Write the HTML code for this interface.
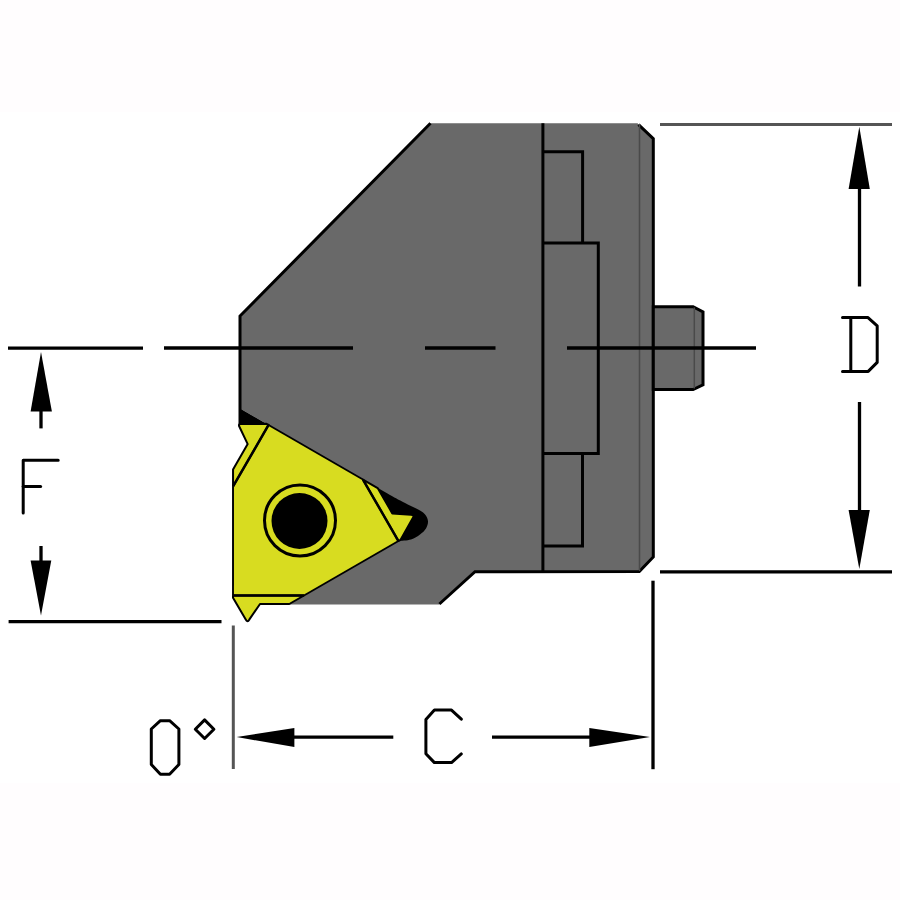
<!DOCTYPE html>
<html><head><meta charset="utf-8">
<style>
html,body{margin:0;padding:0;width:900px;height:900px;overflow:hidden;background:#fffdfe;}
svg{display:block;position:absolute;left:0;top:0;}
</style></head>
<body>
<svg width="900" height="900" viewBox="0 0 900 900">
<rect x="0" y="0" width="900" height="900" fill="#fffdfe"/>
<rect x="0" y="112" width="900" height="671" fill="#ffffff"/>

<!-- body -->
<polygon fill="#696969" points="430.5,123.3 637.5,123.3 653.3,138.7 653.3,557 639.3,571.6 475,571.7 439.4,604.5 289.3,604.5 300,520.5 268.55,425 240,408.5 240,316"/>
<g fill="none" stroke="#000" stroke-width="3" stroke-linejoin="miter" stroke-linecap="butt">
  <polyline points="240,424 240,316 430.5,123.3"/>
  <polyline points="638.5,124.6 653.3,138.7 653.3,557 639.3,571.6 475,571.7 439.4,604"/>
  <line x1="542.9" y1="123.3" x2="542.9" y2="571.6"/>
  <polyline points="542.9,151.8 582.6,151.8 582.6,243"/>
  <polyline points="542.9,243 598.3,243 598.3,453.4 542.9,453.4"/>
  <polyline points="582.5,453.4 582.5,546 542.9,546"/>
</g>
<g fill="none" stroke="#4a4a4a" stroke-width="1.5">
  <line x1="639.5" y1="124" x2="639.5" y2="571"/>
</g>
<!-- nub -->
<polygon fill="#696969" stroke="#000" stroke-width="3" points="653.3,306.7 693.1,306.7 703,311.9 703,384.8 693.1,389.5 653.3,389.5"/>
<line x1="694.3" y1="307.5" x2="694.3" y2="388.5" stroke="#4a4a4a" stroke-width="1.5"/>

<!-- pockets -->
<polygon fill="#000" points="240,408.5 268.55,424.98 240,430"/>
<path fill="#000" d="M362.94,479.52 C367.45,482.10 383.32,491.25 390.00,495.00 C396.68,498.75 399.33,500.08 403.00,502.00 C406.67,503.92 409.17,505.08 412.00,506.50 C414.83,507.92 417.75,509.08 420.00,510.50 C422.25,511.92 424.17,513.17 425.50,515.00 C426.83,516.83 427.92,519.25 428.00,521.50 C428.08,523.75 427.33,526.33 426.00,528.50 C424.67,530.67 422.50,532.67 420.00,534.50 C417.50,536.33 414.59,538.41 411.00,539.50 C407.41,540.59 400.54,540.77 398.45,541.02 Z"/>

<!-- insert -->
<defs>
<path id="tooth" d="M-67,75 L-67,77.3 L-54.4,98.7 Q-52.6,102.5 -50.6,98.9 L-40,83.5 L-10.71,83.5 L4.01,75 Z"/>
</defs>
<g transform="translate(300,520.5)">
<g fill="#d8dc20" stroke="#000" stroke-linejoin="round">
  <polygon stroke="none" points="-67,75 4.01,75 98.45,20.52 62.94,-40.98 -31.45,-95.52 -66.96,-34.02"/>
  <use href="#tooth" stroke-width="2"/>
  <use href="#tooth" stroke-width="2" transform="rotate(120)"/>
  <use href="#tooth" stroke-width="2" transform="rotate(240)"/>
</g>
<g stroke="#000" stroke-width="2.5" fill="none">
  <line x1="-67" y1="75" x2="4.01" y2="75"/>
  <line x1="-67" y1="75" x2="4.01" y2="75" transform="rotate(120)"/>
  <line x1="-67" y1="75" x2="4.01" y2="75" transform="rotate(240)"/>
</g>
<line x1="-67" y1="-34" x2="-67" y2="75" stroke="#222" stroke-width="1.3"/>
<g stroke="#000" stroke-width="1.8">
<line x1="4.01" y1="75" x2="98.45" y2="20.52"/>
<line x1="4.01" y1="75" x2="98.45" y2="20.52" transform="rotate(120)"/>
<line x1="4.01" y1="75" x2="98.45" y2="20.52" transform="rotate(240)"/>
</g>
</g>
<circle cx="300" cy="520.5" r="35.5" fill="none" stroke="#000" stroke-width="3"/>
<circle cx="299.5" cy="521" r="28" fill="#000"/>

<!-- centerline & dims -->
<g stroke="#000" stroke-width="3.3" fill="none" stroke-linecap="butt">
  <line x1="8" y1="348.2" x2="143" y2="348.2"/>
  <line x1="164" y1="348" x2="353" y2="348"/>
  <line x1="425" y1="348" x2="495.5" y2="348"/>
  <line x1="567" y1="348" x2="756" y2="348"/>
  <!-- F -->
  <line x1="41" y1="410" x2="41" y2="428.4"/>
  <line x1="41" y1="546" x2="41" y2="562"/>
  <line x1="8.6" y1="621.7" x2="221.5" y2="621.7"/>
  <!-- D -->
  <line x1="660" y1="571.8" x2="892" y2="571.8"/>
  <line x1="859.5" y1="188" x2="859.5" y2="286.5"/>
  <line x1="859.5" y1="402" x2="859.5" y2="511"/>
  <!-- C -->
  <line x1="653" y1="580.7" x2="653" y2="769.2"/>
  <line x1="293" y1="737.1" x2="393.3" y2="737.1"/>
  <line x1="492" y1="737.1" x2="590" y2="737.1"/>
  <!-- 0 deg -->
</g>
<g stroke="#000" stroke-width="3" fill="none" stroke-linecap="round" stroke-linejoin="round">
  <polyline points="58.2,460.3 23.2,460.3 23.2,513"/>
  <line x1="23.2" y1="486.5" x2="40.6" y2="486.5"/>
  <polyline points="842.5,317.4 867.7,317.4 877.2,325.9 877.2,362.4 868.2,371.4 842.5,371.4"/>
  <line x1="850.8" y1="317.4" x2="850.8" y2="371.4"/>
  <polyline points="461.3,719.2 451.5,710.1 434.4,710.1 425.9,719.4 425.9,753.7 434.4,762.6 451.5,762.6 461.3,753.9"/>
  <polygon points="160.4,720.7 169.6,720.7 178.9,729 178.9,764.5 169.6,774.2 160.4,774.2 151.3,764.5 151.3,729"/>
  <polygon points="204.6,719.9 213.9,729.2 204.6,738.5 195.3,729.2"/>
</g>
<g stroke="#555" stroke-width="3" fill="none">
  <line x1="660" y1="124.5" x2="892" y2="124.5"/>
  <line x1="233.3" y1="625.5" x2="233.3" y2="769"/>
</g>
<g fill="#000">
  <polygon points="41,352 30.6,411.6 51.9,411.6"/>
  <polygon points="41,615.6 30.6,560.6 51.3,560.6"/>
  <polygon points="859.3,126.7 848.6,188.9 869.8,188.9"/>
  <polygon points="859.3,569 848.6,510 869.8,510"/>
  <polygon points="236.7,737.1 294.4,727.9 294.4,746.9"/>
  <polygon points="650,737.1 589.3,727.9 589.3,746.9"/>
</g>
</svg>
</body></html>
